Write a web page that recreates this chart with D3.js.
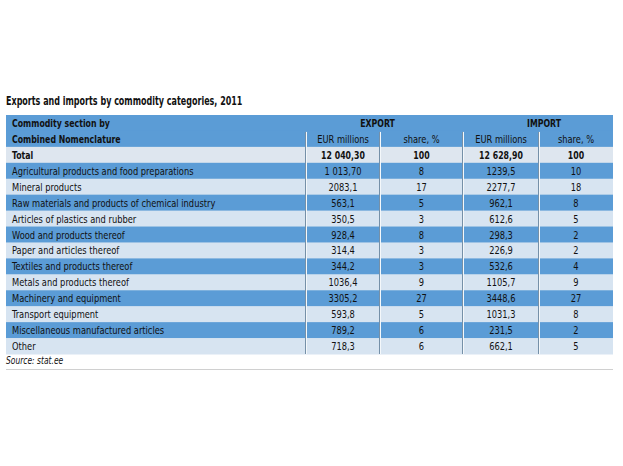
<!DOCTYPE html>
<html><head><meta charset="utf-8">
<script src="https://cdn.jsdelivr.net/npm/d3@7"></script>
<style>
body{margin:0;background:#fff;}
svg text{font-family:"DejaVu Sans Condensed","DejaVu Sans",sans-serif;}
</style></head>
<body><svg id="c" width="623" height="466"></svg>
<script>
const title = "Exports and imports by commodity categories, 2011";
const categories = ["Agricultural products and food preparations","Mineral products","Raw materials and products of chemical industry","Articles of plastics and rubber","Wood and products thereof","Paper and articles thereof","Textiles and products thereof","Metals and products thereof","Machinery and equipment","Transport equipment","Miscellaneous manufactured articles","Other"];
const exportEur = ["1 013,70","2083,1","563,1","350,5","928,4","314,4","344,2","1036,4","3305,2","593,8","789,2","718,3"];
const exportShare = [8,17,5,3,8,3,3,9,27,5,6,6];
const importEur = ["1239,5","2277,7","962,1","612,6","298,3","226,9","532,6","1105,7","3448,6","1031,3","231,5","662,1"];
const importShare = [10,18,8,5,2,2,4,9,27,8,2,5];
const totalRow = ["Total","12 040,30",100,"12 628,90",100];
const headerTop = ["Commodity section by","EXPORT","IMPORT"];
const headerSub = ["Combined Nomenclature","EUR millions","share, %","EUR millions","share, %"];
const source = "Source: stat.ee";

const svg = d3.select("#c");
const L = 6, R = 613, T = 115, B = 354;
const nRows = 2 + 1 + categories.length;
const y = d3.scaleBand().domain(d3.range(nRows)).range([T, B]).paddingInner(0);
const colEdges = [L, 306, 380, 463, 539, R];
const cx = i => (colEdges[i] + colEdges[i+1]) / 2;
const dark = "#5b9cd6", light = "#d7e4f1", totalBg = "#dee6ef";

function txt(x, yy, t, opt = {}) {
  const bold = !!opt.bold;
  const s = opt.scale || (bold ? 0.79 : 0.84);
  return svg.append("text")
    .attr("transform", `translate(${x},${yy}) scale(${s},1)`)
    .attr("text-anchor", opt.anchor || "start")
    .attr("font-size", opt.size || 11)
    .attr("font-weight", bold ? "bold" : "normal")
    .attr("font-style", opt.italic ? "italic" : "normal")
    .attr("fill", "#111").text(t);
}

txt(6, 105, title, {bold: true, size: 11.5, scale: 0.775});

const rowsBg = d3.range(nRows).map(i => i < 2 ? dark : (i === 2 ? totalBg : ((i - 3) % 2 === 0 ? dark : light)));
svg.selectAll("rect.row").data(rowsBg).join("rect").attr("class","row")
  .attr("x", L).attr("width", R - L).attr("y", (d,i) => y(i)).attr("height", y.bandwidth() + 0.5).attr("fill", d => d);

const sepX = colEdges.slice(1, 5);
sepX.forEach(x => {
  svg.append("line").attr("x1", x - 0.5).attr("x2", x - 0.5).attr("y1", y(1) + 1).attr("y2", B).attr("stroke", "#7590a8").attr("stroke-width", 1);
  svg.append("line").attr("x1", x + 0.5).attr("x2", x + 0.5).attr("y1", y(1) + 1).attr("y2", B).attr("stroke", "#f4f8fb").attr("stroke-width", 1);
});

const base = i => y(i) + y.bandwidth() / 2 + 4;
txt(12, base(0), headerTop[0], {bold: true});
txt((colEdges[1] + colEdges[3]) / 2 - 7, base(0), headerTop[1], {bold: true, anchor: "middle"});
txt((colEdges[3] + colEdges[5]) / 2 + 6, base(0), headerTop[2], {bold: true, anchor: "middle"});
headerSub.forEach((t, j) => txt(j === 0 ? 12 : cx(j), base(1), t, {bold: j === 0, anchor: j === 0 ? "start" : "middle"}));
totalRow.forEach((t, j) => txt(j === 0 ? 12 : cx(j), base(2), t, {bold: true, anchor: j === 0 ? "start" : "middle"}));
const rows = categories.map((c, i) => [c, exportEur[i], exportShare[i], importEur[i], importShare[i]]);
rows.forEach((r, i) => r.forEach((t, j) => txt(j === 0 ? 12 : cx(j), base(i + 3), t, {anchor: j === 0 ? "start" : "middle"})));

txt(6, 364, source, {italic: true, size: 10.5, scale: 0.8});
svg.append("line").attr("x1", L).attr("x2", R).attr("y1", 369.5).attr("y2", 369.5).attr("stroke", "#d0d0d0").attr("stroke-width", 1);
</script></body></html>
